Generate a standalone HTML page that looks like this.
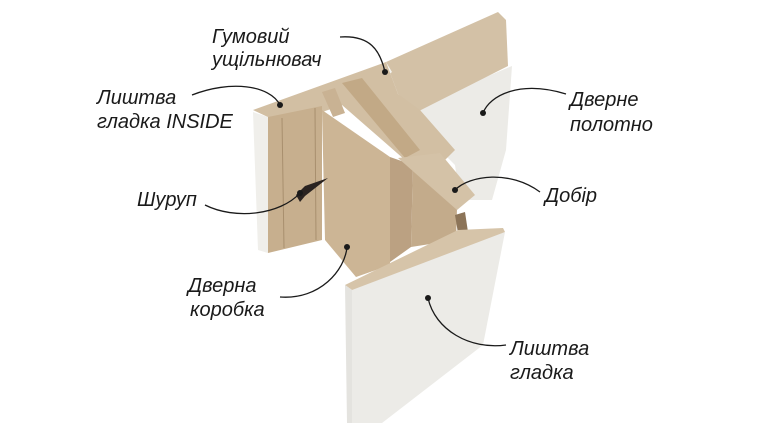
<!DOCTYPE html>
<html><head><meta charset="utf-8"><style>
html,body{margin:0;padding:0;background:#fff}
svg{display:block}
text{font-family:"Liberation Sans","DejaVu Sans",sans-serif;font-style:italic;font-size:20px;fill:#1a1a1a}
</style></head><body>
<svg width="768" height="432" viewBox="0 0 768 432" xmlns="http://www.w3.org/2000/svg">
<!-- door leaf -->
<polygon points="412,108 512,66 506,150 492,200 460,200 455,165 430,140" fill="#ecebe7"/>
<polygon points="386,62 498,12 506,20 508,66 417,112 398,94" fill="#d3c1a6"/>
<polygon points="374,76 386,62 392,72 382,80" fill="#f4f3ef"/>
<!-- frame top -->
<polygon points="253,110 386,62 398,94 420,110 455,150 440,165 405,160 342,105 300,120 270,118" fill="#d2bfa3"/>
<polygon points="322,92 335,88 345,113 333,117" fill="#c9b293"/>
<polygon points="342,83 362,78 420,150 405,158" fill="#c2a986"/>
<!-- left trim -->
<polygon points="253,112 268,117 268,253 258,250" fill="#f0efeb"/>
<polygon points="268,117 322,106 322,240 268,253" fill="#c7af8e"/>
<line x1="282" y1="118" x2="284" y2="248" stroke="#a88f6e" stroke-width="1"/>
<line x1="315" y1="108" x2="316" y2="240" stroke="#a88f6e" stroke-width="1"/>
<!-- central slab -->
<polygon points="322,110 390,157 390,265 356,277 325,240" fill="#ccb595"/>
<polygon points="390,157 413,165 411,247 390,262" fill="#bba182"/>
<!-- dobir -->
<polygon points="413,165 457,208 456,240 411,247" fill="#c3ab8b"/>
<polygon points="398,158 440,153 475,195 457,210" fill="#d4c2a7"/>
<polygon points="455,215 465,212 468,232 458,233" fill="#8c7458"/>
<!-- screw -->
<polygon points="296,195 305,186 328,178 305,196 300,202" fill="#2a2320"/>
<!-- bottom trim -->
<polygon points="345,285 458,230 503,228 505,232 393,290 352,290" fill="#d6c4a9"/>
<polygon points="345,285 352,290 352,423 347,423" fill="#e4e3df"/>
<polygon points="352,290 505,232 483,345 382,423 352,423" fill="#ecebe7"/>
<!-- connectors -->
<g fill="none" stroke="#1a1a1a" stroke-width="1.3">
<path d="M340,37 C370,35 380,50 385,72"/>
<path d="M192,95 C230,80 270,85 280,105"/>
<path d="M205,205 C235,220 280,215 300,193"/>
<path d="M280,297 C320,300 345,270 347,247"/>
<path d="M566,94 C520,80 490,95 483,113"/>
<path d="M540,192 C510,170 470,175 455,190"/>
<path d="M506,345 C470,350 435,330 428,298"/>
</g>
<g fill="#1a1a1a">
<circle cx="385" cy="72" r="3"/><circle cx="280" cy="105" r="3"/><circle cx="300" cy="193" r="3"/>
<circle cx="347" cy="247" r="3"/><circle cx="483" cy="113" r="3"/><circle cx="455" cy="190" r="3"/><circle cx="428" cy="298" r="3"/>
</g>
<text x="212" y="43">Гумовий</text>
<text x="212" y="66">ущільнювач</text>
<text x="97" y="104">Лиштва</text>
<text x="97" y="128">гладка INSIDE</text>
<text x="137" y="206">Шуруп</text>
<text x="188" y="292">Дверна</text>
<text x="190" y="316">коробка</text>
<text x="570" y="106">Дверне</text>
<text x="570" y="131">полотно</text>
<text x="545" y="202">Добір</text>
<text x="510" y="355">Лиштва</text>
<text x="510" y="379">гладка</text>
</svg>
</body></html>
